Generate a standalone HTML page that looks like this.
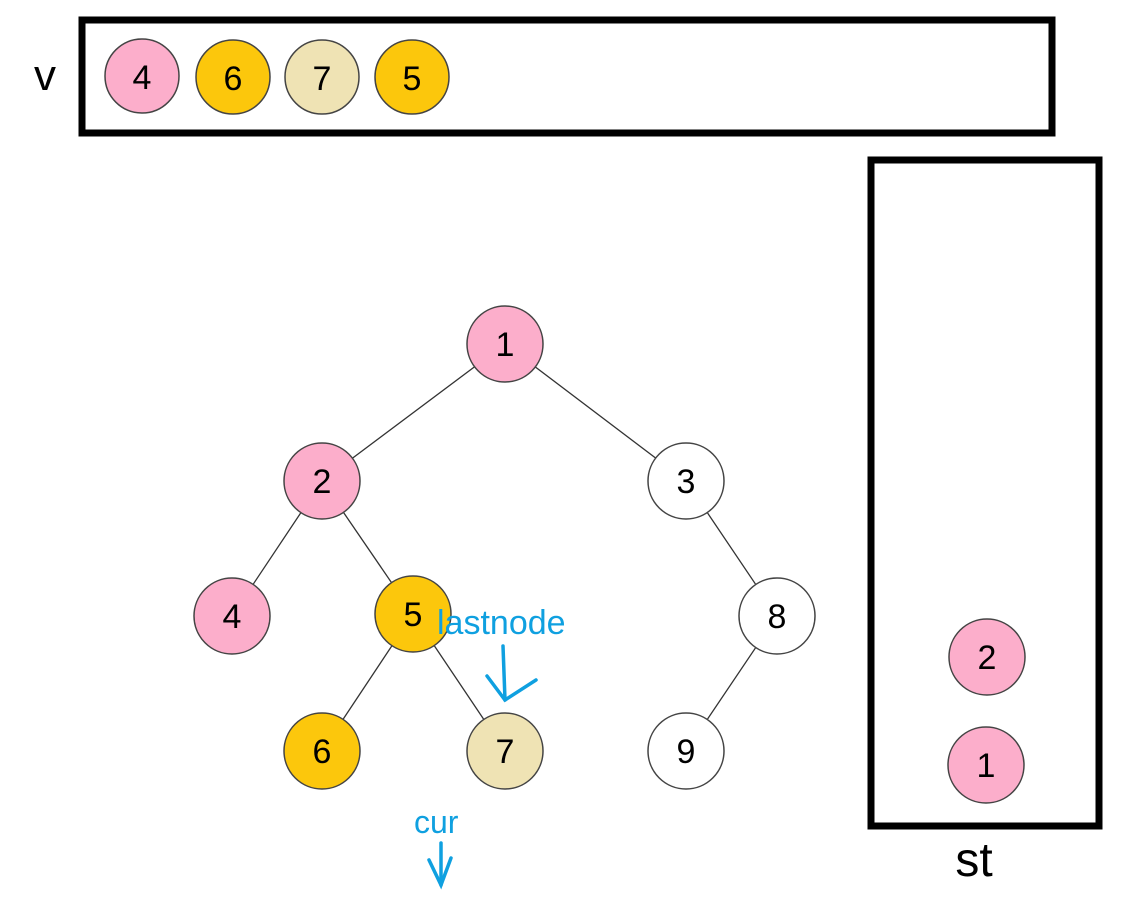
<!DOCTYPE html>
<html><head><meta charset="utf-8"><style>
html,body{margin:0;padding:0;background:#fff;}
svg{display:block;}
text{font-family:"Liberation Sans",sans-serif;}
</style></head><body>
<svg width="1135" height="902" viewBox="0 0 1135 902" xmlns="http://www.w3.org/2000/svg">
<rect x="82" y="20" width="970" height="113" fill="none" stroke="#000" stroke-width="7"/>
<text x="45" y="90" font-size="44" text-anchor="middle">v</text>
<g stroke="#444" stroke-width="1.5">
<circle cx="142" cy="76" r="37" fill="#fcaecb"/>
<circle cx="233" cy="77" r="37" fill="#fcc70c"/>
<circle cx="322" cy="77" r="37" fill="#efe3b4"/>
<circle cx="412" cy="77" r="37" fill="#fcc70c"/>
</g>
<g font-size="34" text-anchor="middle">
<text x="142" y="89">4</text><text x="233" y="90">6</text><text x="322" y="90">7</text><text x="412" y="90">5</text>
</g>
<rect x="871" y="160" width="228" height="666" fill="none" stroke="#000" stroke-width="7"/>
<text x="974" y="876" font-size="48" text-anchor="middle">st</text>
<g stroke="#444" stroke-width="1.5" fill="#fcaecb">
<circle cx="987" cy="657" r="38"/><circle cx="986" cy="765" r="38"/>
</g>
<g font-size="34" text-anchor="middle">
<text x="987" y="669">2</text><text x="986" y="777">1</text>
</g>
<g stroke="#333" stroke-width="1.3">
<line x1="505" y1="344" x2="322" y2="481"/>
<line x1="505" y1="344" x2="686" y2="481"/>
<line x1="322" y1="481" x2="232" y2="616"/>
<line x1="322" y1="481" x2="413" y2="614"/>
<line x1="686" y1="481" x2="777" y2="616"/>
<line x1="413" y1="614" x2="322" y2="751"/>
<line x1="413" y1="614" x2="505" y2="751"/>
<line x1="777" y1="616" x2="686" y2="751"/>
</g>
<g stroke="#444" stroke-width="1.5">
<circle cx="505" cy="344" r="38" fill="#fcaecb"/>
<circle cx="322" cy="481" r="38" fill="#fcaecb"/>
<circle cx="686" cy="481" r="38" fill="#fff"/>
<circle cx="232" cy="616" r="38" fill="#fcaecb"/>
<circle cx="413" cy="614" r="38" fill="#fcc70c"/>
<circle cx="777" cy="616" r="38" fill="#fff"/>
<circle cx="322" cy="751" r="38" fill="#fcc70c"/>
<circle cx="505" cy="751" r="38" fill="#efe3b4"/>
<circle cx="686" cy="751" r="38" fill="#fff"/>
</g>
<g font-size="34" text-anchor="middle">
<text x="505" y="356">1</text><text x="322" y="493">2</text><text x="686" y="493">3</text>
<text x="232" y="628">4</text><text x="413" y="626">5</text><text x="777" y="628">8</text>
<text x="322" y="763">6</text><text x="505" y="763">7</text><text x="686" y="763">9</text>
</g>
<g fill="#0fa0e0" font-size="34">
<text x="437" y="634">lastnode</text>
<text x="414" y="833" font-size="32">cur</text>
</g>
<g stroke="#0fa0e0" stroke-width="3.5" fill="none" stroke-linecap="round">
<polyline points="503,646 505,700"/>
<polyline points="487,676 505,700 536,680"/>
<polyline points="441,843 441,885"/>
<polyline points="429,860 441,885 451,858"/>
</g>
</svg>
</body></html>
